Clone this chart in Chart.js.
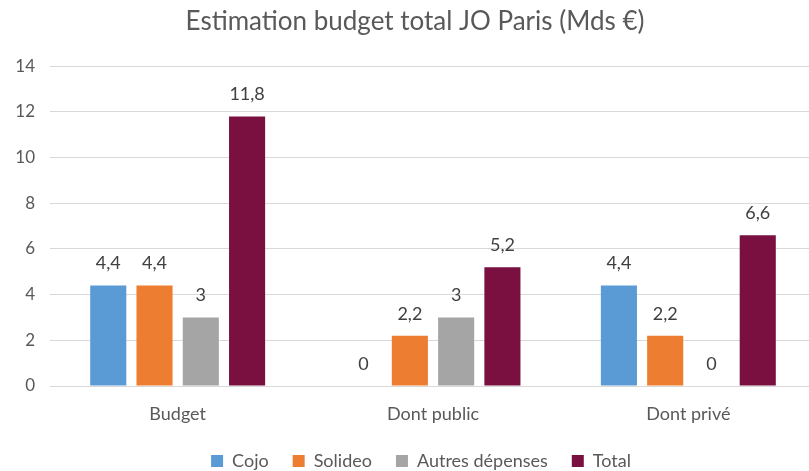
<!DOCTYPE html>
<html>
<head>
<meta charset="utf-8">
<script src="https://cdn.jsdelivr.net/npm/chart.js@4"></script>
<style>
html,body{margin:0;padding:0;background:#fff;overflow:hidden;}
#wrap{width:818px;height:471px;}
</style>
</head>
<body>
<div id="wrap"><canvas id="c" width="818" height="471"></canvas></div>
<script>
const categories = ["Budget", "Dont public", "Dont privé"];
const seriesNames = ["Cojo", "Solideo", "Autres dépenses", "Total"];
const cojo = [4.4, 0, 4.4];
const solideo = [4.4, 2.2, 2.2];
const autres = [3, 3, 0];
const total = [11.8, 5.2, 6.6];
const yTicks = [0, 2, 4, 6, 8, 10, 12, 14];
const colors = ["#5B9BD5", "#ED7D31", "#A5A5A5", "#7A1040"];

const FONT = "Lato, 'Open Sans', sans-serif";
const TXT = "#595959";
const LEGEND_H = 43;
const XAXIS_H = 42;
const LEGEND_SHIFT = 13;
const TITLE_SHIFT = 7;

const labelPlugin = {
  id: "valueLabels",
  afterDatasetsDraw(chart) {
    const ctx = chart.ctx;
    ctx.save();
    ctx.font = "18px " + FONT;
    ctx.fillStyle = "#404040";
    ctx.textAlign = "center";
    ctx.textBaseline = "middle";
    chart.data.datasets.forEach((ds, i) => {
      const meta = chart.getDatasetMeta(i);
      meta.data.forEach((el, j) => {
        const v = ds.data[j];
        ctx.fillText(String(v).replace(".", ","), el.x, el.y - 22);
      });
    });
    ctx.restore();
  }
};

const boxTweakPlugin = {
  id: "boxTweak",
  beforeLayout(chart) {
    const lg = chart.legend;
    if (lg && !lg._patched) {
      const orig = lg.fit.bind(lg);
      lg.fit = function () { orig(); this.height = LEGEND_H; };
      lg._patched = true;
    }
  },
  afterLayout(chart) {
    if (chart.legend) { chart.legend.left += LEGEND_SHIFT; chart.legend.right += LEGEND_SHIFT; }
    if (chart.titleBlock) { chart.titleBlock.left += TITLE_SHIFT; chart.titleBlock.right += TITLE_SHIFT; }
  }
};

new Chart(document.getElementById("c"), {
  type: "bar",
  data: {
    labels: categories,
    datasets: [cojo, solideo, autres, total].map((d, i) => ({
      label: seriesNames[i],
      data: d,
      backgroundColor: colors[i],
      borderWidth: 0,
      barPercentage: 0.78,
      categoryPercentage: 0.725
    }))
  },
  options: {
    responsive: false,
    animation: false,
    layout: { padding: { left: 0, right: 2, top: 0, bottom: 0 } },
    plugins: {
      title: {
        display: true,
        text: "Estimation budget total JO Paris (Mds €)",
        color: TXT,
        font: { family: FONT, size: 26, weight: "normal" },
        padding: { top: 6, bottom: 29 }
      },
      legend: {
        position: "bottom",
        labels: {
          color: TXT,
          font: { family: FONT, size: 18 },
          boxWidth: 12,
          boxHeight: 12,
          padding: 24
        }
      },
      tooltip: { enabled: false }
    },
    scales: {
      x: {
        grid: { display: false, drawTicks: false },
        border: { display: false },
        afterFit(axis) { axis.height = XAXIS_H; },
        ticks: { color: TXT, font: { family: FONT, size: 18 }, padding: 17 }
      },
      y: {
        min: 0,
        max: 14,
        afterBuildTicks(axis) { axis.ticks = yTicks.map(v => ({ value: v })); },
        afterFit(axis) { axis.width = 50; },
        grid: { color: "#D9D9D9", lineWidth: 1, drawTicks: false },
        border: { display: false },
        ticks: { color: TXT, font: { family: FONT, size: 17 }, padding: 15 }
      }
    }
  },
  plugins: [labelPlugin, boxTweakPlugin]
});
</script>
</body>
</html>
